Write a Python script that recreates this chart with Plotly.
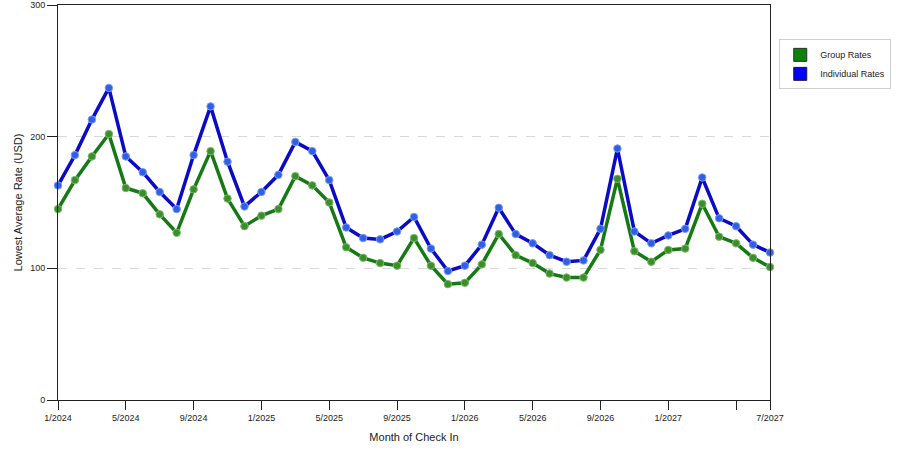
import plotly.graph_objects as go

# months shown on the x axis, 1/2024 .. 7/2027
months = [f"{m}/{y}" for y in range(2024, 2028) for m in range(1, 13)][:43]

group_rates = [145, 167, 185, 202, 161, 157, 141, 127, 160, 189, 153, 132,
               140, 145, 170, 163, 150, 116, 108, 104, 102, 123, 102, 88,
               89, 103, 126, 110, 104, 96, 93, 93, 114, 168, 113, 105,
               114, 115, 149, 124, 119, 108, 101]

individual_rates = [163, 186, 213, 237, 185, 173, 158, 145, 186, 223, 181, 147,
                    158, 171, 196, 189, 167, 131, 123, 122, 128, 139, 115, 98,
                    102, 118, 146, 126, 119, 110, 105, 106, 130, 191, 128, 119,
                    125, 130, 169, 138, 132, 118, 112]

tick_months = ["1/2024", "5/2024", "9/2024", "1/2025", "5/2025", "9/2025",
               "1/2026", "5/2026", "9/2026", "1/2027", "5/2027", "7/2027"]
tick_text = [t if t != "5/2027" else "" for t in tick_months]

font = "Liberation Sans, Arial, sans-serif"

fig = go.Figure()

fig.add_trace(go.Scatter(x=months, y=group_rates, mode='lines+markers',
                         line=dict(color='#157a15', width=3.5),
                         marker=dict(color='#3a8f2c', size=7.5,
                                     line=dict(color='#7fb86a', width=1)),
                         cliponaxis=False, showlegend=False))
fig.add_trace(go.Scatter(x=months, y=individual_rates, mode='lines+markers',
                         line=dict(color='#0a0ac8', width=3.5),
                         marker=dict(color='#2f5fe6', size=7.5,
                                     line=dict(color='#7a9cf0', width=1)),
                         cliponaxis=False, showlegend=False))

# legend swatches
fig.add_trace(go.Scatter(x=[None], y=[None], mode='markers', name='Group Rates',
                         marker=dict(symbol='square', size=13, color='#0f7f0f',
                                     line=dict(color='#1a3a1a', width=1))))
fig.add_trace(go.Scatter(x=[None], y=[None], mode='markers', name='Individual Rates',
                         marker=dict(symbol='square', size=13, color='#0000ff',
                                     line=dict(color='#1a1a3a', width=1))))

fig.update_layout(
    width=900, height=450,
    margin=dict(l=58, r=130, t=5, b=50),
    paper_bgcolor='white', plot_bgcolor='white',
    font=dict(family=font, size=9, color='#222'),
    legend=dict(x=1.013, y=0.913, xanchor='left', yanchor='top',
                bordercolor='#d0d0d0', borderwidth=1,
                font=dict(size=9), itemsizing='trace',
                tracegroupgap=2),
)

fig.update_xaxes(type='category', categoryorder='array', categoryarray=months,
                 range=[0, len(months) - 1],
                 tickmode='array', tickvals=tick_months, ticktext=tick_text,
                 ticks='outside', ticklen=9, tickcolor='#222',
                 showline=True, linecolor='#222', linewidth=1, mirror=True,
                 showgrid=False, zeroline=False, automargin=False,
                 title=dict(text='Month of Check In', standoff=11))

fig.update_yaxes(range=[0, 300], tickvals=[0, 100, 200, 300],
                 ticks='outside', ticklen=10, tickcolor='#222',
                 showline=True, linecolor='#222', linewidth=1, mirror=True,
                 showgrid=True, gridcolor='#d8d8d8', griddash='dash',
                 zeroline=False, automargin=False,
                 title=dict(text='Lowest Average Rate (USD)', standoff=5))

fig.write_html("out.html", config={'displayModeBar': False},
               post_script="document.body.style.margin='0px';")
